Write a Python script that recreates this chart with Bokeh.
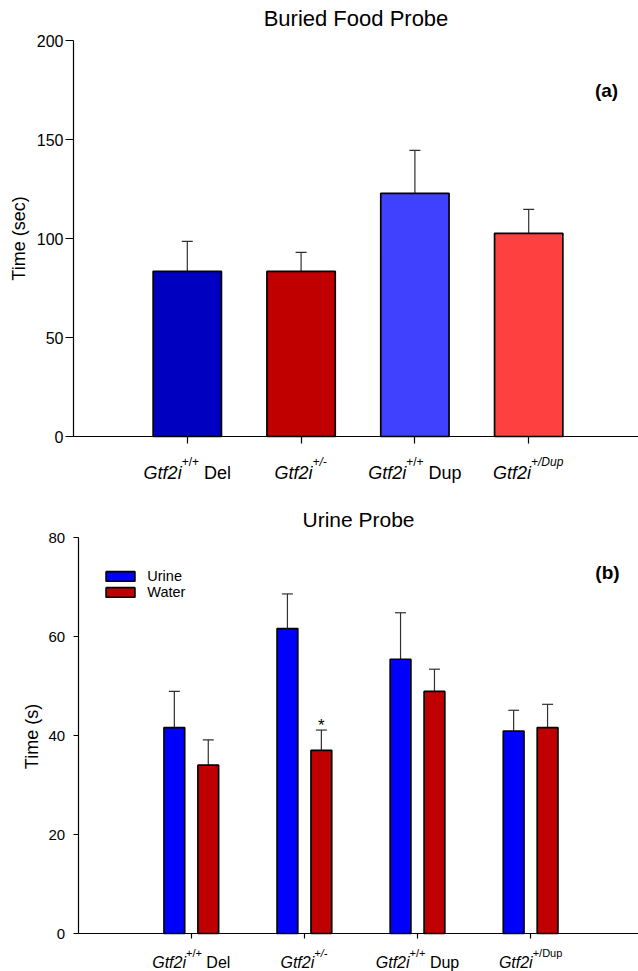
import math
from bokeh.plotting import figure
from bokeh.models import (Range1d, FixedTicker, Label, Whisker, TeeHead,
                          ColumnDataSource, Legend, LegendItem, LinearAxis)
from bokeh.layouts import column
from bokeh.embed import file_html
from bokeh.resources import INLINE

FONT = "Liberation Sans"

# ---------------- Panel (a) data ----------------
a_title = "Buried Food Probe"
a_tag = "(a)"
a_ylabel = "Time (sec)"
a_cats = [1, 2, 3, 4]
a_base = ["Gtf2i", "Gtf2i", "Gtf2i", "Gtf2i"]
a_sup = ["+/+", "+/-", "+/+", "+/Dup"]
a_sup_italic = [False, True, False, True]
a_tail = [" Del", "", " Dup", ""]
a_means = [83.4, 83.4, 122.8, 102.6]
a_sem = [15.1, 9.6, 21.7, 12.1]
a_colors = ["#0000C0", "#C00000", "#4040FF", "#FF4040"]
a_yticks = [0, 50, 100, 150, 200]

# ---------------- Panel (b) data ----------------
b_title = "Urine Probe"
b_tag = "(b)"
b_ylabel = "Time (s)"
b_cats = [1, 2, 3, 4]
b_base = ["Gtf2i", "Gtf2i", "Gtf2i", "Gtf2i"]
b_sup = ["+/+", "+/-", "+/+", "+/Dup"]
b_sup_italic = [False, True, False, False]
b_tail = [" Del", "", " Dup", ""]
b_series = ["Urine", "Water"]
b_series_colors = ["#0000FF", "#C00000"]
b_urine = [41.6, 61.6, 55.4, 40.9]
b_urine_sem = [7.3, 7.0, 9.4, 4.2]
b_water = [34.0, 37.0, 48.9, 41.6]
b_water_sem = [5.1, 4.1, 4.5, 4.7]
b_water_sig = ["", "*", "", ""]
b_yticks = [0, 20, 40, 60, 80]

# Arial / Liberation Sans advance widths (per 1000 em)
CW = {'G': 778, 't': 278, 'f': 278, '2': 556, 'i': 222, '+': 584, '/': 278,
      '-': 333, ' ': 278, 'D': 722, 'e': 556, 'l': 222, 'u': 556, 'p': 556}


def tw(s, size):
    return sum(CW.get(c, 556) for c in s) / 1000.0 * size


def make_fig(width, height, x0_px, unit_px, ytop_px, y0_px, ymax, yticks,
             ytick_out, ytick_size, ystandoff, xtick_out):
    """The frame fills the whole figure; axes are placed at fixed locations.
    x0_px / ytop_px / y0_px are pixel positions of x=0, y=ymax, y=0."""
    ppu = (y0_px - ytop_px) / ymax
    y_hi = ymax + ytop_px / ppu
    y_lo = -(height - y0_px) / ppu
    x_lo = -x0_px / unit_px
    x_hi = (width - x0_px) / unit_px
    p = figure(width=width, height=height, x_range=Range1d(x_lo, x_hi),
               y_range=Range1d(y_lo, y_hi), output_backend="svg",
               toolbar_location=None, min_border_left=0, min_border_right=0,
               min_border_top=0, min_border_bottom=0)
    p.outline_line_color = None
    p.grid.visible = False
    p.background_fill_color = "white"
    p.border_fill_color = "white"
    top_axis = LinearAxis(fixed_location=ymax, ticker=FixedTicker(ticks=[]),
                          bounds=(0, x_hi))
    p.add_layout(top_axis, "above")
    for ax in p.axis:
        ax.axis_line_color = "black"
        ax.axis_line_width = 1.2
        ax.major_tick_line_color = "black"
        ax.major_tick_line_width = 1.2
        ax.minor_tick_line_color = None
        ax.major_tick_in = 0
        ax.major_label_text_font = FONT
        ax.major_label_text_color = "black"
    p.yaxis.fixed_location = 0
    p.yaxis.bounds = (0, ymax)
    p.yaxis.ticker = FixedTicker(ticks=yticks)
    p.yaxis.major_tick_out = ytick_out
    p.yaxis.major_label_text_font_size = f"{ytick_size}px"
    p.yaxis.major_label_standoff = ystandoff
    p.xaxis.fixed_location = 0
    p.xaxis.bounds = (0, x_hi)
    p.xaxis.major_tick_out = xtick_out
    top_axis.major_tick_out = 0
    return p


def add_xlabels(p, cats, base, sup, sup_it, tail, size, sup_size, base_off, rise):
    for c, b, s, si, t in zip(cats, base, sup, sup_it, tail):
        w1 = tw(b, size)
        w2 = tw(s, sup_size) + (1.0 if si else 0.0)
        w3 = tw(t, size)
        x0 = -(w1 + w2 + w3) / 2.0
        p.add_layout(Label(x=c, y=0, x_offset=x0, y_offset=-base_off, text=b,
                           text_font=FONT, text_font_size=f"{size}px",
                           text_font_style="italic", text_color="black",
                           text_align="left", text_baseline="alphabetic"))
        p.add_layout(Label(x=c, y=0, x_offset=x0 + w1, y_offset=-base_off + rise,
                           text=s, text_font=FONT, text_font_size=f"{sup_size}px",
                           text_font_style="italic" if si else "normal",
                           text_color="black", text_align="left",
                           text_baseline="alphabetic"))
        ts = t.lstrip()
        if ts:
            lead = tw(t[:len(t) - len(ts)], size)
            p.add_layout(Label(x=c, y=0, x_offset=x0 + w1 + w2 + lead,
                               y_offset=-base_off, text=ts, text_font=FONT,
                               text_font_size=f"{size}px", text_color="black",
                               text_align="left", text_baseline="alphabetic"))


def add_text(p, x, y, text, size, style="normal", angle=0.0):
    p.add_layout(Label(x=x, y=y, x_units="screen", y_units="screen", text=text,
                       text_font=FONT, text_font_size=f"{size}px",
                       text_font_style=style, text_color="black", angle=angle,
                       text_align="center", text_baseline="middle"))


# ================= Panel (a) =================
A_W, A_H = 638, 488
p1 = make_fig(A_W, A_H, 73, 113.8, 40, 436, 200, a_yticks, 8, 16, 2, 7)

src_a = ColumnDataSource(dict(x=a_cats, top=a_means,
                              hi=[m + s for m, s in zip(a_means, a_sem)],
                              color=a_colors))
p1.vbar(x="x", top="top", bottom=0, width=0.6, fill_color="color",
        line_color="black", line_width=1.7, source=src_a)
p1.add_layout(Whisker(source=src_a, base="x", lower="top", upper="hi",
                      dimension="height", line_color="#303030", line_width=1.2,
                      lower_head=None,
                      upper_head=TeeHead(size=11, line_color="#303030",
                                         line_width=1.2)))
p1.xaxis.ticker = FixedTicker(ticks=a_cats)
p1.xaxis.major_label_overrides = {c: "" for c in a_cats}

add_xlabels(p1, a_cats, a_base, a_sup, a_sup_italic, a_tail, 18, 12, 36, 11)

add_text(p1, 355.5, A_H - 18, a_title, 22)
add_text(p1, 606, A_H - 90, a_tag, 19, "bold")
add_text(p1, 18.5, A_H - 238, a_ylabel, 18, angle=math.pi / 2)

# ================= Panel (b) =================
B_W, B_H = 638, 483
p2 = make_fig(B_W, B_H, 77.7, 113.1, 49, 445, 80, b_yticks, 5, 15, 8, 5)

DOD = 0.15
src_u = ColumnDataSource(dict(x=[c - DOD for c in b_cats], top=b_urine,
                              hi=[m + s for m, s in zip(b_urine, b_urine_sem)]))
src_w = ColumnDataSource(dict(x=[c + DOD for c in b_cats], top=b_water,
                              hi=[m + s for m, s in zip(b_water, b_water_sem)]))
r_u = p2.vbar(x="x", top="top", bottom=0, width=0.183,
              fill_color=b_series_colors[0], line_color="black",
              line_width=1.7, source=src_u)
r_w = p2.vbar(x="x", top="top", bottom=0, width=0.183,
              fill_color=b_series_colors[1], line_color="black",
              line_width=1.7, source=src_w)
for src in (src_u, src_w):
    p2.add_layout(Whisker(source=src, base="x", lower="top", upper="hi",
                          dimension="height", line_color="#303030",
                          line_width=1.2, lower_head=None,
                          upper_head=TeeHead(size=11, line_color="#303030",
                                             line_width=1.2)))

for c, m, s, sig in zip(b_cats, b_water, b_water_sem, b_water_sig):
    if sig:
        p2.add_layout(Label(x=c + DOD, y=m + s, y_offset=5, text=sig,
                            text_font=FONT, text_font_size="17px",
                            text_color="black", text_align="center",
                            text_baseline="alphabetic"))

p2.xaxis.ticker = FixedTicker(ticks=b_cats)
p2.xaxis.major_label_overrides = {c: "" for c in b_cats}

add_xlabels(p2, b_cats, b_base, b_sup, b_sup_italic, b_tail, 16, 11, 29, 9.5)

legend = Legend(items=[LegendItem(label=b_series[0], renderers=[r_u]),
                       LegendItem(label=b_series[1], renderers=[r_w])],
                location=(102.3, B_H - 112.2), orientation="vertical",
                glyph_width=36, glyph_height=12, label_height=12,
                label_standoff=9, spacing=0, padding=0, margin=0,
                border_line_color=None, background_fill_alpha=0,
                label_text_font=FONT, label_text_font_size="14.5px",
                label_text_color="black", label_text_baseline="middle")
p2.add_layout(legend)

add_text(p2, 358, B_H - 31, b_title, 21)
add_text(p2, 607, B_H - 83.7, b_tag, 19, "bold")
add_text(p2, 31.7, B_H - 248, b_ylabel, 18, angle=math.pi / 2)

layout = column(p1, p2, spacing=0)
open("out.html", "w").write(file_html(layout, INLINE))
